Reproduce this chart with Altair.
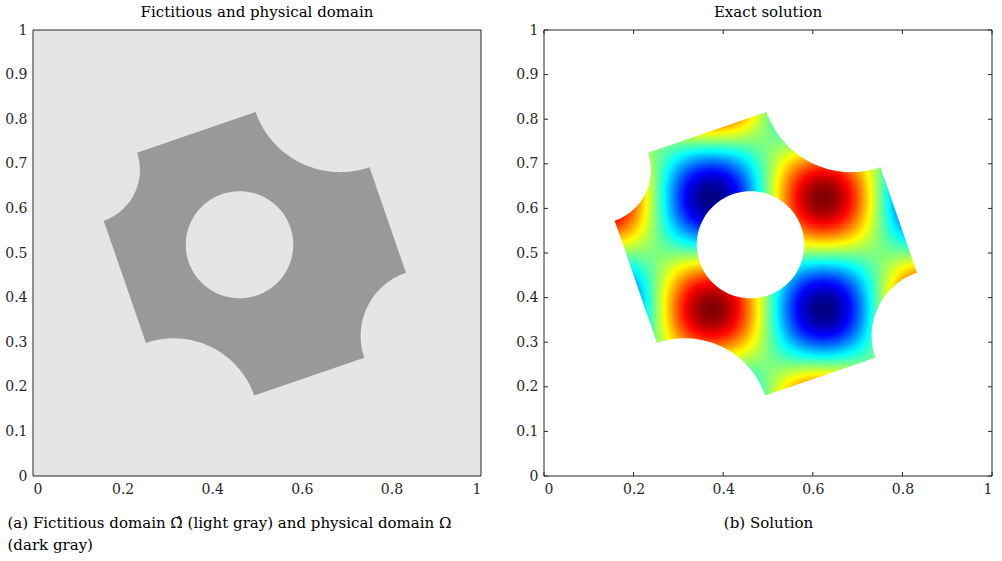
import numpy as np
import pandas as pd
import altair as alt

alt.data_transformers.disable_max_rows()

# ---------------- values ----------------
x_tick_values = [0, 0.2, 0.4, 0.6, 0.8, 1]
y_tick_values = [0, 0.1, 0.2, 0.3, 0.4, 0.5, 0.6, 0.7, 0.8, 0.9, 1]

# fictitious domain (light gray square)
fictitious_x = [0, 1]
fictitious_y = [0, 1]

# physical domain: rotated square with circular bites at its corners and a hole
square_center = [0.5, 0.5]
square_side = 0.6
square_rotation_deg = 19.0
corner_names = ["bottom-right", "top-right", "top-left", "bottom-left"]
corner_radii = [0.15, 0.20, 0.12, 0.19]
hole_center = [0.461, 0.5185]
hole_radius = 0.12

# exact solution: extrema at x, y in {0.375, 0.625} -> u = sin(4 pi x) sin(4 pi y)
solution_wavenumber = 4
solution_step = 0.005

# jet colour map
color_stops = [-1, -0.75, -0.25, 0.25, 0.75, 1]
jet_colors = ["#000080", "#0000ff", "#00ffff", "#ffff00", "#ff0000", "#800000"]

caption_a = ["(a) Fictitious domain \u03a9\u0302 (light gray) and physical domain \u03a9", "(dark gray)"]
caption_b = "(b) Solution"
title_a = "Fictitious and physical domain"
title_b = "Exact solution"

# ---------------- style ----------------
W, H = 448, 446
FONT = "DejaVu Serif"
INK = "#262626"
LIGHT = "#e5e5e5"
DARK = "#999999"
LABEL_SIZE = 14
TEXT_SIZE = 15

# ---------------- geometry ----------------
h = square_side / 2
th = np.radians(square_rotation_deg)
ct, st = np.cos(th), np.sin(th)


def to_xy(u, v):
    return (square_center[0] + u * ct - v * st, square_center[1] + u * st + v * ct)


corner_local = [(h, -h), (h, h), (-h, h), (-h, -h)]
corner_arcs = [(180, 90), (270, 180), (360, 270), (90, 0)]
ring = []
for (cu, cv), r, (a0, a1) in zip(corner_local, corner_radii, corner_arcs):
    for a in np.linspace(np.radians(a0), np.radians(a1), 48):
        ring.append(to_xy(cu + r * np.cos(a), cv + r * np.sin(a)))
ring.append(ring[0])

hole_ring = [(hole_center[0] + hole_radius * np.cos(a), hole_center[1] + hole_radius * np.sin(a))
             for a in np.linspace(0, 2 * np.pi, 121)]

square_ring = [(fictitious_x[1], fictitious_y[0]), (fictitious_x[1], fictitious_y[1]),
               (fictitious_x[0], fictitious_y[1]), (fictitious_x[0], fictitious_y[0]),
               (fictitious_x[1], fictitious_y[0])]
# outside of the physical domain: square with the domain as a reversed (hole) ring
mask_ring = square_ring + ring[::-1] + [square_ring[0]]


def shape_df(points, name):
    return pd.DataFrame({"x": [round(p[0], 5) for p in points],
                         "y": [round(p[1], 5) for p in points],
                         "i": list(range(len(points))),
                         "shape": name})


# ---------------- solution cells ----------------
s = solution_step
gx = np.arange(0.13, 0.87, s)
gy = np.arange(0.15, 0.85, s)
X, Y = np.meshgrid(gx, gy)
XC, YC = X + 0.75 * s, Y + 0.75 * s
U = (XC - square_center[0]) * ct + (YC - square_center[1]) * st
V = -(XC - square_center[0]) * st + (YC - square_center[1]) * ct
m = 2.5 * s
keep = (np.abs(U) <= h + m) & (np.abs(V) <= h + m)
for (cu, cv), r in zip(corner_local, corner_radii):
    keep &= np.hypot(U - cu, V - cv) >= r - m
keep &= np.hypot(XC - hole_center[0], YC - hole_center[1]) >= hole_radius - m
k = solution_wavenumber * np.pi
vals = np.sin(k * XC) * np.sin(k * YC)
cells = pd.DataFrame({"x": np.round(X[keep], 4), "y": np.round(Y[keep], 4), "u": np.round(vals[keep], 4)})

# ---------------- shared pieces ----------------
xs = alt.Scale(domain=[0, 1], nice=False)
ys = alt.Scale(domain=[0, 1], nice=False)


def x_axis(title, left_caption):
    kw = dict(values=x_tick_values, format="~g", domain=False, ticks=False, grid=False,
              labelFont=FONT, labelFontSize=LABEL_SIZE, labelColor=INK, labelPadding=6,
              title=title, titleFont=FONT, titleFontSize=TEXT_SIZE, titleFontWeight="normal",
              titleColor="black", titleBaseline="alphabetic", titleY=51)
    if left_caption:
        kw.update(titleAnchor="start", titleAlign="left", titleX=-26, titleLineHeight=22)
    else:
        kw.update(titleX=W / 2, titleAlign="center")
    return alt.Axis(**kw)


y_axis = alt.Axis(values=y_tick_values, format="~g", domain=False, ticks=False, grid=False,
                  labelFont=FONT, labelFontSize=LABEL_SIZE, labelColor=INK, labelPadding=6, title=None)


def layer_xy(chart, xa, ya):
    return chart.encode(x=alt.X("x:Q", scale=xs, axis=xa), x2="x2:Q",
                        y=alt.Y("y:Q", scale=ys, axis=ya), y2="y2:Q")


frame_df = pd.DataFrame({
    "x": [fictitious_x[0], fictitious_x[1], fictitious_x[0], fictitious_x[0]],
    "x2": [fictitious_x[0], fictitious_x[1], fictitious_x[1], fictitious_x[1]],
    "y": [fictitious_y[0], fictitious_y[0], fictitious_y[0], fictitious_y[1]],
    "y2": [fictitious_y[1], fictitious_y[1], fictitious_y[0], fictitious_y[1]],
})


def polygon(df, fill, xa, ya):
    return alt.Chart(df).mark_line(fill=fill, strokeWidth=0, interpolate="linear").encode(
        x=alt.X("x:Q", scale=xs, axis=xa), y=alt.Y("y:Q", scale=ys, axis=ya),
        order=alt.Order("i:Q"), detail="shape:N")


# ---------------- panel (a) ----------------
xa_a = x_axis(caption_a, True)
fict_df = pd.DataFrame({"x": [fictitious_x[0]], "x2": [fictitious_x[1]],
                        "y": [fictitious_y[0]], "y2": [fictitious_y[1]]})
fict = layer_xy(alt.Chart(fict_df).mark_rect(color=LIGHT), xa_a, y_axis)
dom = polygon(shape_df(ring, "domain"), DARK, xa_a, y_axis)
hole_a = polygon(shape_df(hole_ring, "hole"), LIGHT, xa_a, y_axis)
frame_a = layer_xy(alt.Chart(frame_df).mark_rule(color=INK, strokeWidth=1), xa_a, y_axis)
panel_a = alt.layer(fict, dom, hole_a, frame_a).properties(
    width=W, height=H, title=alt.TitleParams(title_a))

# ---------------- panel (b) ----------------
xa_b = x_axis(caption_b, False)
heat = alt.Chart(cells).transform_calculate(
    x2=f"datum.x + {1.5 * s}", y2=f"datum.y + {1.5 * s}"
).mark_rect(strokeWidth=0).encode(
    x=alt.X("x:Q", scale=xs, axis=xa_b), x2="x2:Q",
    y=alt.Y("y:Q", scale=ys, axis=y_axis), y2="y2:Q",
    color=alt.Color("u:Q", scale=alt.Scale(domain=color_stops, range=jet_colors, interpolate="rgb"),
                    legend=None))
mask = polygon(shape_df(mask_ring, "outside"), "white", xa_b, y_axis)
hole_b = polygon(shape_df(hole_ring, "hole"), "white", xa_b, y_axis)

tl = 0.009
tick_rows = []
for t in x_tick_values:
    tick_rows.append({"x": t, "x2": t, "y": 0, "y2": tl})
    tick_rows.append({"x": t, "x2": t, "y": 1, "y2": 1 - tl})
for t in y_tick_values:
    tick_rows.append({"x": 0, "x2": tl, "y": t, "y2": t})
    tick_rows.append({"x": 1, "x2": 1 - tl, "y": t, "y2": t})
ticks = layer_xy(alt.Chart(pd.DataFrame(tick_rows)).mark_rule(color=INK, strokeWidth=1), xa_b, y_axis)
frame_b = layer_xy(alt.Chart(frame_df).mark_rule(color=INK, strokeWidth=1), xa_b, y_axis)

panel_b = alt.layer(heat, mask, hole_b, ticks, frame_b).properties(
    width=W, height=H, title=alt.TitleParams(title_b))

chart = alt.hconcat(panel_a, panel_b, spacing=63, bounds="flush").properties(
    padding={"left": 4, "top": 4, "right": 0, "bottom": 0}
).configure_view(stroke="transparent").configure_title(
    font=FONT, fontSize=TEXT_SIZE, fontWeight="normal", color="black", anchor="middle",
    frame="group", offset=3
)

chart.save("out.html", embed_options={"renderer": "svg", "actions": False})
